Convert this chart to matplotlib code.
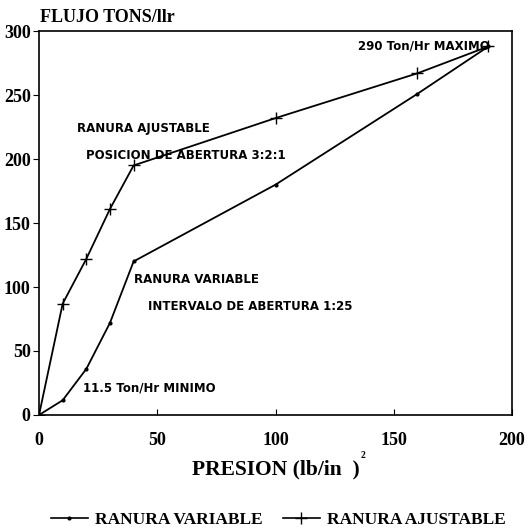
import matplotlib.pyplot as plt
from matplotlib.lines import Line2D

# datos
presion_var = [0, 10, 20, 30, 40, 100, 160, 190]
flujo_var = [0, 11.5, 36, 72, 120, 180, 251, 288]

presion_aj = [0, 10, 20, 30, 40, 100, 160, 190]
flujo_aj = [0, 87, 122, 161, 195, 232, 267, 288]

xticks = [0, 50, 100, 150, 200]
yticks = [0, 50, 100, 150, 200, 250, 300]

serif = ['Liberation Serif', 'DejaVu Serif']
sans = ['DejaVu Sans']

fig = plt.figure(figsize=(5.28, 5.31), dpi=100)
ax = fig.add_axes([0.0739, 0.2185, 0.896, 0.723])

ax.plot(presion_var, flujo_var, color='black', lw=1.3, marker='.', ms=4)
ax.plot(presion_aj, flujo_aj, color='black', lw=1.3, marker='+', ms=9, mew=1)

ax.set_xlim(0, 200)
ax.set_ylim(0, 300)
ax.set_xticks(xticks)
ax.set_yticks(yticks)
ax.tick_params(axis='x', direction='in', length=4, pad=12)
ax.tick_params(axis='y', direction='out', length=4, pad=2)
for lbl in ax.get_xticklabels() + ax.get_yticklabels():
    lbl.set_fontfamily(serif)
    lbl.set_fontweight('bold')
    lbl.set_fontsize(13)
for s in ax.spines.values():
    s.set_linewidth(1.2)

# textos
ax.text(0.002, 1.012, 'FLUJO TONS/llr', transform=ax.transAxes, family=serif,
        fontweight='bold', fontsize=13, ha='left', va='bottom')
fig.text(0.522, 0.115, 'PRESION (lb/in  )', family=serif, fontweight='bold',
         fontsize=15.5, ha='center', va='center')
fig.text(0.688, 0.143, '2', family=serif, fontweight='bold', fontsize=7,
         ha='center', va='center')

kw = dict(family=sans, fontweight='bold', fontsize=8.5, va='center', ha='left')
ax.text(135, 288, '290 Ton/Hr MAXIMO', **kw)
ax.text(16, 224, 'RANURA AJUSTABLE', **kw)
ax.text(20, 203, 'POSICION DE ABERTURA 3:2:1', **kw)
ax.text(40, 106, 'RANURA VARIABLE', **kw)
ax.text(46, 85, 'INTERVALO DE ABERTURA 1:25', **kw)
ax.text(18.5, 21, '11.5 Ton/Hr MINIMO', **kw)

handles = [Line2D([], [], color='black', lw=1.2, marker='.', ms=4),
           Line2D([], [], color='black', lw=1.2, marker='+', ms=8, mew=1)]
fig.legend(handles, ['RANURA VARIABLE', 'RANURA AJUSTABLE'], loc='center',
           bbox_to_anchor=(0.527, 0.021), ncol=2, frameon=False, handlelength=2.1,
           columnspacing=1.2, handletextpad=0.4,
           prop={'family': serif, 'weight': 'bold', 'size': 12.5})

fig.savefig('out.png', dpi=100)
